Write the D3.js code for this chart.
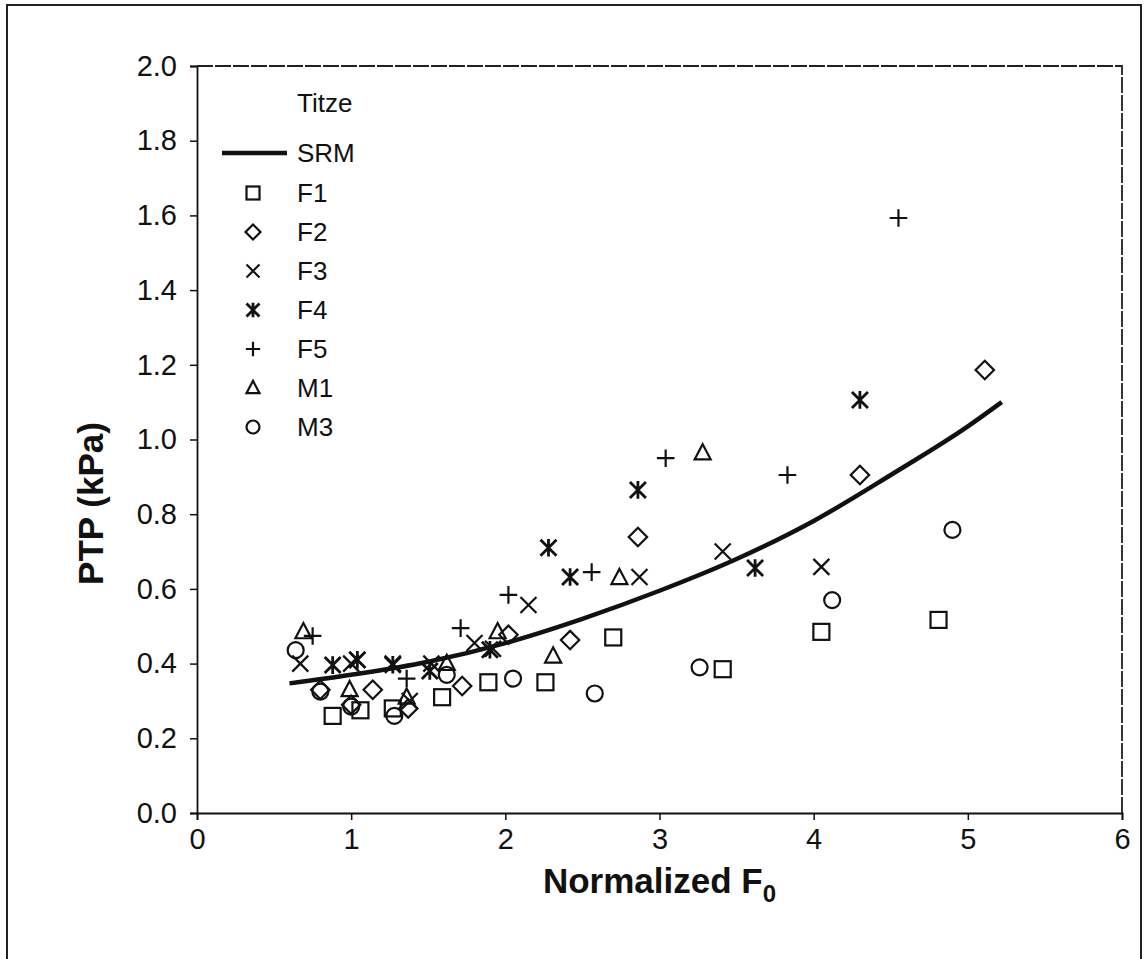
<!DOCTYPE html>
<html>
<head>
<meta charset="utf-8">
<script src="https://cdn.jsdelivr.net/npm/d3@7/dist/d3.min.js"></script>
<style>
  html, body { margin: 0; padding: 0; background: #fff; }
  svg { display: block; }
  text { font-family: "Liberation Sans", Arial, sans-serif; fill: #111; }
</style>
</head>
<body>
<svg id="chart" width="1147" height="959"></svg>
<script>
// ---- data ----
const xTicks = [0, 1, 2, 3, 4, 5, 6];
const yTicks = [0.0, 0.2, 0.4, 0.6, 0.8, 1.0, 1.2, 1.4, 1.6, 1.8, 2.0];

const srmX = [0.60, 1.00, 1.50, 2.00, 2.50, 3.00, 3.50, 4.00, 4.50, 5.00, 5.22];
const srmY = [0.347, 0.370, 0.405, 0.455, 0.520, 0.595, 0.680, 0.782, 0.905, 1.035, 1.100];

const f1X = [0.88, 1.06, 1.27, 1.59, 1.89, 2.26, 2.70, 3.41, 4.05, 4.81];
const f1Y = [0.260, 0.275, 0.280, 0.310, 0.350, 0.350, 0.470, 0.385, 0.485, 0.517];

const f2X = [0.80, 1.00, 1.14, 1.37, 1.72, 2.02, 2.42, 2.86, 4.30, 5.11];
const f2Y = [0.330, 0.290, 0.330, 0.280, 0.340, 0.477, 0.463, 0.739, 0.905, 1.186];

const f3X = [0.67, 1.00, 1.04, 1.27, 1.38, 1.52, 1.80, 1.92, 2.15, 2.87, 3.41, 4.05];
const f3Y = [0.400, 0.400, 0.410, 0.400, 0.300, 0.400, 0.455, 0.440, 0.557, 0.632, 0.700, 0.659];

const f4X = [0.88, 1.04, 1.27, 1.51, 1.90, 2.28, 2.42, 2.86, 3.62, 4.30];
const f4Y = [0.396, 0.410, 0.397, 0.380, 0.437, 0.710, 0.632, 0.865, 0.656, 1.106];

const f5X = [0.75, 1.36, 1.71, 2.02, 2.56, 3.04, 3.83, 4.55];
const f5Y = [0.474, 0.360, 0.495, 0.584, 0.645, 0.950, 0.905, 1.593];

const m1X = [0.69, 0.99, 1.36, 1.62, 1.95, 2.31, 2.74, 3.28];
const m1Y = [0.485, 0.330, 0.310, 0.400, 0.485, 0.420, 0.630, 0.964];

const m3X = [0.64, 0.80, 1.00, 1.28, 1.62, 2.05, 2.58, 3.26, 4.12, 4.90];
const m3Y = [0.436, 0.325, 0.285, 0.260, 0.370, 0.360, 0.320, 0.390, 0.570, 0.758];

const seriesNames = ["F1", "F2", "F3", "F4", "F5", "M1", "M3"];
const seriesShapes = ["square", "diamond", "x", "asterisk", "plus", "triangle", "circle"];

// ---- layout ----
const svg = d3.select("#chart");
const pLeft = 197, pRight = 1122, pTop = 66, pBottom = 813;
const x = d3.scaleLinear().domain([0, 6]).range([pLeft, pRight]);
const y = d3.scaleLinear().domain([0, 2]).range([pBottom, pTop]);
const ink = "#111";

// outer figure frame
svg.append("rect").attr("x", 7).attr("y", 5).attr("width", 1134).attr("height", 970)
  .attr("fill", "none").attr("stroke", "#222").attr("stroke-width", 2);

// plot frame (top & right)
svg.append("path")
  .attr("d", `M${pLeft},${pTop}H${pRight}V${pBottom}`)
  .attr("fill", "none").attr("stroke", "#222").attr("stroke-width", 1.8)
  .attr("stroke-dasharray", "16,2");

// axes
const xAxis = d3.axisBottom(x).tickValues(xTicks).tickFormat(d3.format("d")).tickSize(7).tickPadding(8);
const yAxis = d3.axisLeft(y).tickValues(yTicks).tickFormat(d3.format(".1f")).tickSize(7).tickPadding(13);

const gx = svg.append("g").attr("transform", `translate(0,${pBottom})`).call(xAxis);
const gy = svg.append("g").attr("transform", `translate(${pLeft},0)`).call(yAxis);
[gx, gy].forEach(g => {
  g.select(".domain").attr("stroke", ink).attr("stroke-width", 1.8);
  g.selectAll(".tick line").attr("stroke", ink).attr("stroke-width", 1.5);
  g.selectAll(".tick text").style("font-size", "29px").style("font-family", "'Liberation Sans', Arial, sans-serif").attr("fill", "#2a2a2a");
});

// axis titles
const xt = svg.append("text").attr("x", (pLeft + pRight) / 2).attr("y", 893)
  .attr("text-anchor", "middle").style("font-size", "35px").style("font-weight", "bold");
xt.append("tspan").text("Normalized F");
xt.append("tspan").text("0").style("font-size", "24px").attr("dy", 9);

svg.append("text")
  .attr("transform", `translate(103,${(pTop + pBottom) / 2 + 64}) rotate(-90)`)
  .attr("text-anchor", "middle").style("font-size", "35px").style("font-weight", "bold")
  .text("PTP (kPa)");

// symbols
function drawSymbol(g, shape, cx, cy, s) {
  const h = s / 2;
  const st = { fill: "none", stroke: ink, "stroke-width": 2.2 };
  let el;
  if (shape === "square") {
    el = g.append("rect").attr("x", cx - h).attr("y", cy - h).attr("width", s).attr("height", s);
  } else if (shape === "diamond") {
    el = g.append("path").attr("d", `M${cx},${cy - h * 1.15}L${cx + h * 1.15},${cy}L${cx},${cy + h * 1.15}L${cx - h * 1.15},${cy}Z`);
  } else if (shape === "x") {
    el = g.append("path").attr("d", `M${cx - h},${cy - h}L${cx + h},${cy + h}M${cx - h},${cy + h}L${cx + h},${cy - h}`);
  } else if (shape === "asterisk") {
    el = g.append("path").attr("d", `M${cx - h},${cy - h}L${cx + h},${cy + h}M${cx - h},${cy + h}L${cx + h},${cy - h}M${cx},${cy - h * 1.1}L${cx},${cy + h * 1.1}`);
    st["stroke-width"] = 2.8;
  } else if (shape === "plus") {
    el = g.append("path").attr("d", `M${cx - h * 1.1},${cy}L${cx + h * 1.1},${cy}M${cx},${cy - h * 1.1}L${cx},${cy + h * 1.1}`);
  } else if (shape === "triangle") {
    el = g.append("path").attr("d", `M${cx},${cy - h * 1.1}L${cx + h},${cy + h * 0.8}L${cx - h},${cy + h * 0.8}Z`);
  } else {
    el = g.append("circle").attr("cx", cx).attr("cy", cy).attr("r", h);
  }
  Object.entries(st).forEach(([k, v]) => el.attr(k, v));
}

const seriesData = [
  [f1X, f1Y], [f2X, f2Y], [f3X, f3Y], [f4X, f4Y], [f5X, f5Y], [m1X, m1Y], [m3X, m3Y]
];

const marks = svg.append("g");
seriesData.forEach(([xs, ys], i) => {
  xs.forEach((xv, j) => drawSymbol(marks, seriesShapes[i], x(xv), y(ys[j]), 16));
});

// SRM line
const line = d3.line().x(d => x(d[0])).y(d => y(d[1])).curve(d3.curveMonotoneX);
svg.append("path").datum(srmX.map((v, i) => [v, srmY[i]]))
  .attr("d", line).attr("fill", "none").attr("stroke", ink).attr("stroke-width", 4.5);

// legend
const lg = svg.append("g");
lg.append("text").attr("x", 297).attr("y", 112).style("font-size", "26px").attr("fill", "#222").text("Titze");
lg.append("line").attr("x1", 222).attr("x2", 287).attr("y1", 153).attr("y2", 153)
  .attr("stroke", ink).attr("stroke-width", 4.5);
lg.append("text").attr("x", 297).attr("y", 162).style("font-size", "26px").attr("fill", "#222").text("SRM");
seriesNames.forEach((name, i) => {
  const cy = 193 + i * 39;
  drawSymbol(lg, seriesShapes[i], 253, cy, 13);
  lg.append("text").attr("x", 297).attr("y", cy + 9).style("font-size", "26px").attr("fill", "#222").text(name);
});
</script>
</body>
</html>
